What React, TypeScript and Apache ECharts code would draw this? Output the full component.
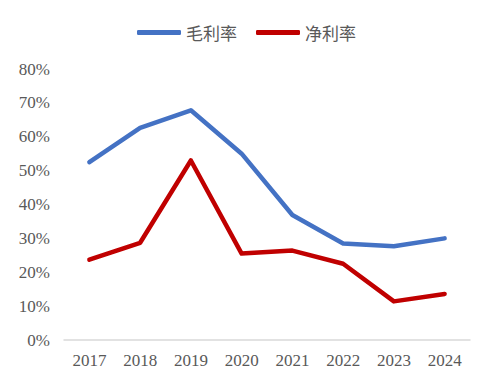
import React, { useEffect, useRef } from "react";
import * as echarts from "echarts";

const categories = ["2017", "2018", "2019", "2020", "2021", "2022", "2023", "2024"];
const grossMargin = [52.5, 62.6, 67.8, 55.0, 36.9, 28.5, 27.7, 30.0];
const netMargin = [23.7, 28.7, 53.0, 25.5, 26.4, 22.5, 11.4, 13.6];
const seriesNames = ["毛利率", "净利率"];
const yTicks = { min: 0, max: 80, interval: 10 };

export default function App() {
  const ref = useRef<HTMLDivElement>(null);
  useEffect(() => {
    if (!ref.current) return;
    const chart = echarts.init(ref.current, null, { renderer: "svg" });
    const font = "'Liberation Serif', 'Times New Roman', serif";
    chart.setOption({
      animation: false,
      backgroundColor: "#ffffff",
      legend: {
        top: 19,
        left: "center",
        icon: "roundRect",
        itemWidth: 44,
        itemHeight: 5,
        itemGap: 19,
        textStyle: {
          fontFamily: "'Noto Sans CJK SC', serif",
          fontSize: 17,
          color: "#595959",
          padding: [0, 0, 0, 0],
        },
        data: seriesNames,
      },
      grid: { left: 64, right: 23, top: 69, bottom: 45, containLabel: false },
      xAxis: {
        type: "category",
        data: categories,
        boundaryGap: true,
        axisLine: { show: true, lineStyle: { color: "#d9d9d9", width: 1.5 } },
        axisTick: { show: false },
        axisLabel: { color: "#595959", fontFamily: font, fontSize: 17, margin: 12 },
      },
      yAxis: {
        type: "value",
        min: yTicks.min,
        max: yTicks.max,
        interval: yTicks.interval,
        axisLine: { show: false },
        axisTick: { show: false },
        splitLine: { show: false },
        axisLabel: {
          color: "#595959",
          fontFamily: font,
          fontSize: 17,
          margin: 14,
          formatter: (v: number) => `${v}%`,
        },
      },
      series: [
        {
          name: seriesNames[0],
          type: "line",
          data: grossMargin,
          symbol: "none",
          lineStyle: { color: "#4472C4", width: 4.5, cap: "round", join: "round" },
          itemStyle: { color: "#4472C4" },
        },
        {
          name: seriesNames[1],
          type: "line",
          data: netMargin,
          symbol: "none",
          lineStyle: { color: "#C00000", width: 4.5, cap: "round", join: "round" },
          itemStyle: { color: "#C00000" },
        },
      ],
    });
    return () => chart.dispose();
  }, []);
  return <div ref={ref} style={{ width: 493, height: 385, position: "absolute", left: 0, top: 0 }} />;
}
